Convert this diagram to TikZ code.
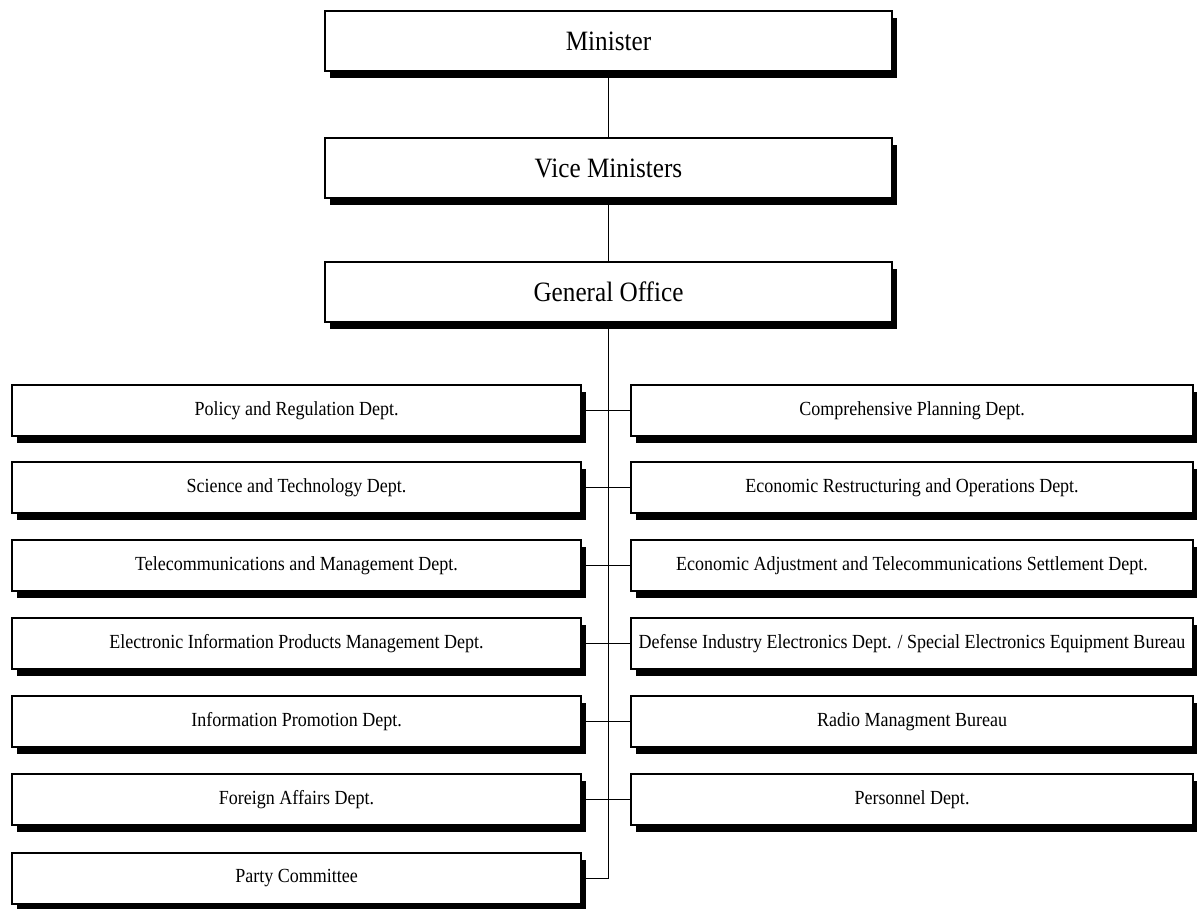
\documentclass[tikz,border=0pt]{standalone}
\usepackage{fontspec}
\setmainfont[FakeStretch=0.9]{Liberation Serif}
\usetikzlibrary{shadows}
\begin{document}
\begin{tikzpicture}[x=1pt,y=-1pt,
  box/.style={draw, line width=2pt, fill=white, rectangle, inner sep=0pt,
    anchor=north west,
    general shadow={fill=black, shadow xshift=5pt, shadow yshift=-7pt}},
  topbox/.style={box, minimum width=567pt, minimum height=60pt,
    font=\fontsize{28}{32}\selectfont},
  leftbox/.style={box, minimum width=569pt, minimum height=51pt,
    font=\fontsize{20}{24}\selectfont},
  rightbox/.style={box, minimum width=562pt, minimum height=51pt,
    font=\fontsize{20}{24}\selectfont},
  link/.style={line width=1.8pt}]
\useasboundingbox (0,0) rectangle (1197,909);

% top of the hierarchy
\node[topbox] (m)  at (324,10)  {Minister};
\node[topbox] (vm) at (324,137) {Vice Ministers};
\node[topbox] (go) at (324,261) {General Office};

% departments, left column
\node[leftbox] (L1) at (11,384) {Policy and Regulation Dept.};
\node[leftbox] (L2) at (11,461) {Science and Technology Dept.};
\node[leftbox] (L3) at (11,539) {Telecommunications and Management Dept.};
\node[leftbox] (L4) at (11,617) {Electronic Information Products Management Dept.};
\node[leftbox] (L5) at (11,695) {Information Promotion Dept.};
\node[leftbox] (L6) at (11,773) {Foreign Affairs Dept.};
\node[leftbox] (L7) at (11,852) {Party Committee};

% departments, right column
\node[rightbox] (R1) at (630,384) {Comprehensive Planning Dept.};
\node[rightbox] (R2) at (630,461) {Economic Restructuring and Operations Dept.};
\node[rightbox] (R3) at (630,539) {Economic Adjustment and Telecommunications Settlement Dept.};
\node[rightbox] (R4) at (630,617) {Defense Industry Electronics Dept. / Special Electronics Equipment Bureau};
\node[rightbox] (R5) at (630,695) {Radio Managment Bureau};
\node[rightbox] (R6) at (630,773) {Personnel Dept.};

% trunk line
\draw[link] (m.south) -- (vm.north);
\draw[link] (vm.south) -- (go.north);
\draw[link] (go.south) |- (L7.east);

% branches
\foreach \i in {1,...,6}
  \draw[link] (L\i.east) -- (R\i.west);
\end{tikzpicture}
\end{document}
